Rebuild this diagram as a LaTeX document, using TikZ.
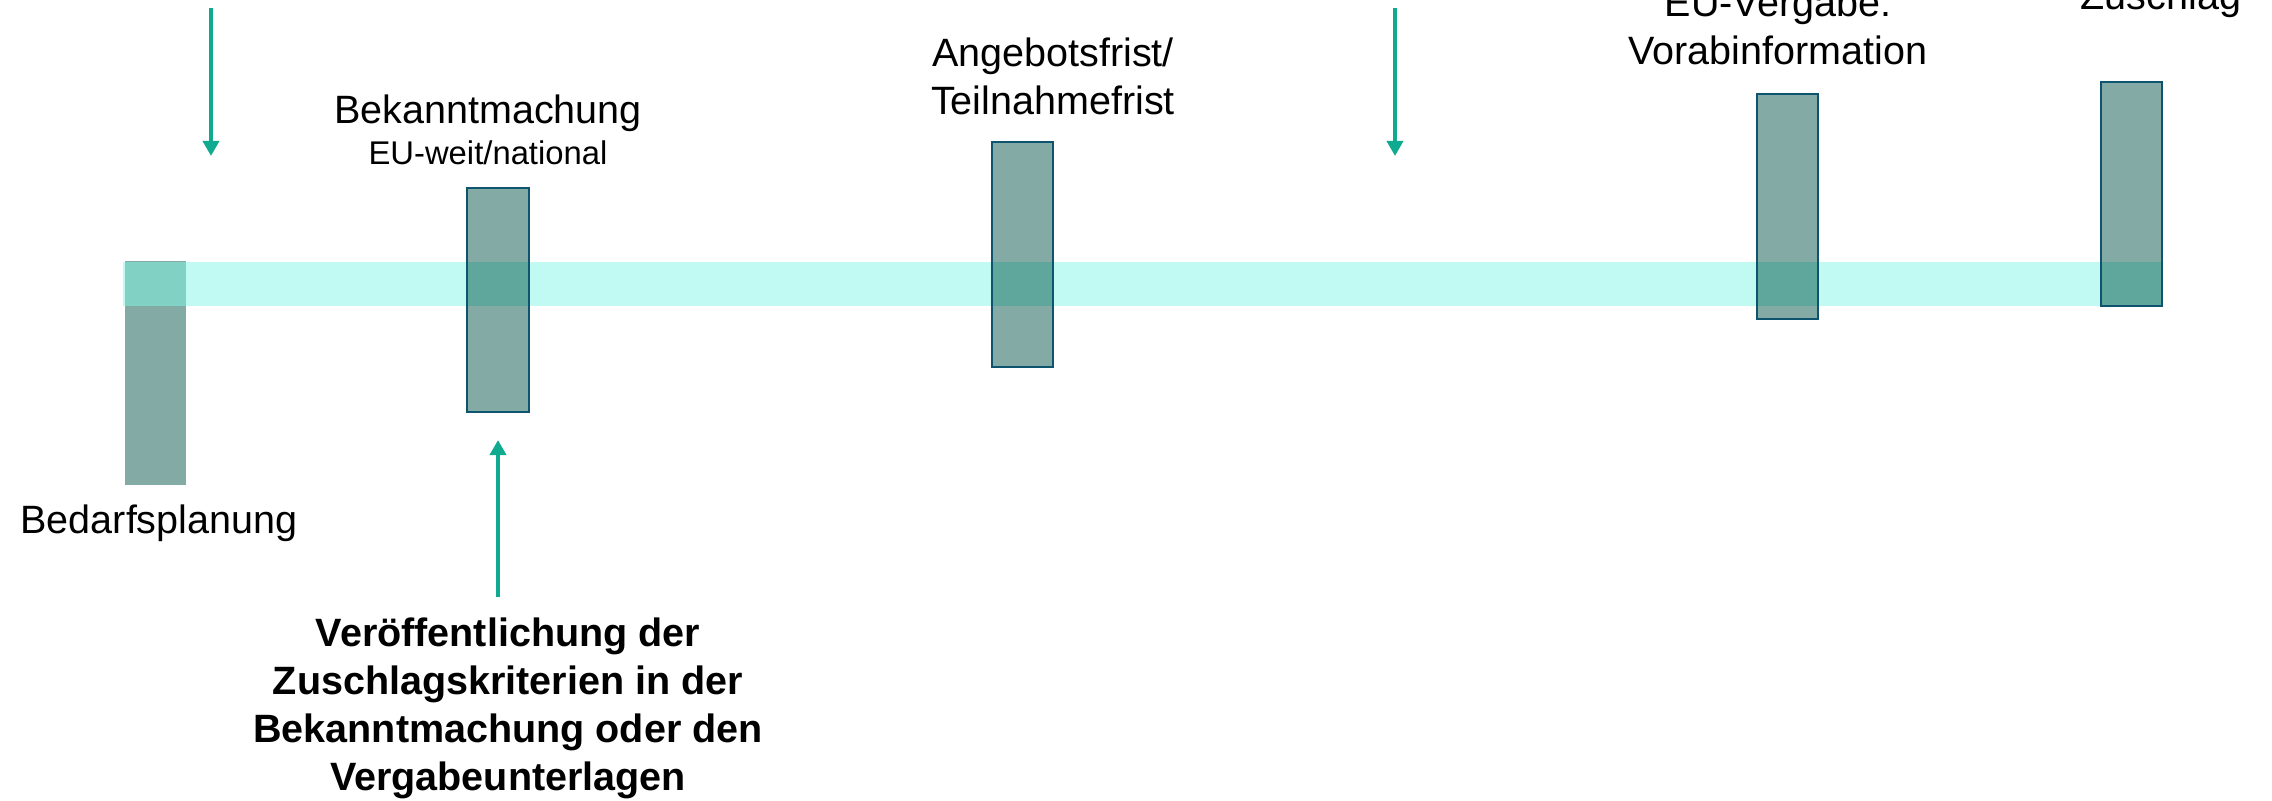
\documentclass[tikz,border=0pt]{standalone}
\usepackage{fontspec}
\setmainfont{Liberation Sans}
\usetikzlibrary{arrows.meta}

\definecolor{bandcol}{HTML}{C0FAF2}
\definecolor{boxcol}{HTML}{84AAA5}
\definecolor{boxband}{HTML}{5FA69C}
\definecolor{planband}{HTML}{82D1C5}
\definecolor{edgecol}{HTML}{0E546E}
\definecolor{arrowcol}{HTML}{0FAA8F}

\tikzset{
  band/.style={fill=bandcol, inner sep=0, outer sep=0,
    minimum width=20.38cm, minimum height=0.44cm},
  bar/.style={fill=boxcol, inner sep=0, outer sep=0,
    minimum width=0.61cm, minimum height=2.24cm},
  barframe/.style={draw=edgecol, line width=0.02cm},
  marker/.style={draw=arrowcol, line width=0.037cm,
    -{Triangle[width=0.16cm,length=0.15cm]}},
  lbl/.style={inner sep=0, anchor=base, align=center,
    font=\fontsize{11.24pt}{13.66pt}\selectfont},
  sublbl/.style={inner sep=0, anchor=base,
    font=\fontsize{9.33pt}{11pt}\selectfont},
  note/.style={lbl, font=\fontsize{11.24pt}{13.66pt}\selectfont\bfseries}
}

\begin{document}
\begin{tikzpicture}[x=0.01cm, y=-0.01cm]
\path[use as bounding box, fill=white] (0,0) rectangle (2272,801);

% timeline band
\node[band] (band) at (1143,284) {};

% planning bar sits under the band
\node[bar] (b1) at (155.5,373) {};
\fill[planband] (b1.west |- band.north) rectangle (b1.east |- band.south);

% milestone bars
\node[bar] (b2) at (498,300) {};
\node[bar] (b3) at (1022.5,254.5) {};
\node[bar] (b4) at (1787.5,206.5) {};
\node[bar] (b5) at (2131.5,194) {};
\foreach \b in {b2,b3,b4,b5} {
  \fill[boxband] (\b.west |- band.north) rectangle (\b.east |- band.south);
  \draw[barframe] (\b.south west) rectangle (\b.north east);
}

% labels (multi-line labels are placed by the baseline of their last line)
\node[lbl] (tbek) at (488,124) {Bekanntmachung};
\node[sublbl] (tbeksub) at (488,165) {EU-weit/national};
\node[lbl] (tang) at (1053,115) {Angebotsfrist/\\Teilnahmefrist};
\node[lbl] (teu) at (1778,65) {EU-Vergabe:\\Vorabinformation};
\node[lbl] (tzu) at (2161,10) {Zuschlag};
\node[lbl] (tbed) at (159,534) {Bedarfsplanung};
\node[note] (tcrit) at (508,791) {Veröffentlichung der\\Zuschlagskriterien in der\\Bekanntmachung oder den\\Vergabeunterlagen};

% arrows
\coordinate (m1s) at (211,8);
\coordinate (m1e) at (211,156);
\draw[marker] (m1s) -- (m1e);
\coordinate (m2s) at (1395,8);
\coordinate (m2e) at (1395,156);
\draw[marker] (m2s) -- (m2e);
\coordinate (m3s) at (498,597);
\draw[marker] (m3s) -- ([yshift=-0.28cm]b2.south);
\end{tikzpicture}
\end{document}
